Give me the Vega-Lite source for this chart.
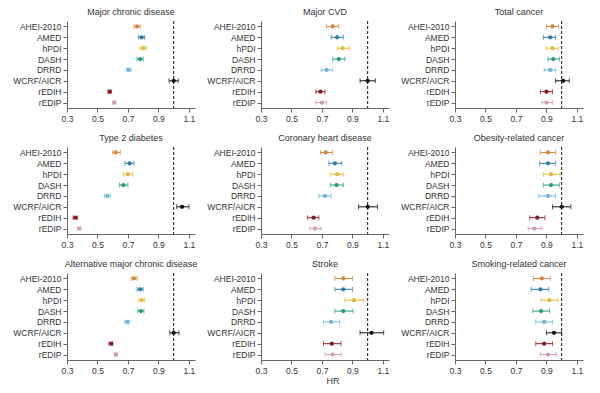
{
  "$schema": "https://vega.github.io/schema/vega-lite/v6.json",
  "background": "white",
  "padding": {"left": 12, "top": 7, "right": 5, "bottom": 5},
  "config": {
    "font": "Liberation Sans",
    "view": {"stroke": null},
    "axis": {"labelFontSize": 8.5, "labelColor": "#333", "domainColor": "#666", "tickColor": "#666", "tickSize": 4, "grid": false, "labelPadding": 2, "labelOverlap": false},
    "header": {"labelFontSize": 9, "labelColor": "#333", "labelPadding": 4, "title": null}
  },
  "title": {"text": "HR", "orient": "bottom", "anchor": "middle", "fontSize": 9, "fontWeight": "normal", "color": "#333", "dx": 35, "offset": 2},
  "data": {"values": [
    {"o":"Major chronic disease","d":"AHEI-2010","hr":0.76,"lo":0.74,"hi":0.78},
    {"o":"Major chronic disease","d":"AMED","hr":0.79,"lo":0.77,"hi":0.81},
    {"o":"Major chronic disease","d":"hPDI","hr":0.80,"lo":0.78,"hi":0.82},
    {"o":"Major chronic disease","d":"DASH","hr":0.78,"lo":0.76,"hi":0.80},
    {"o":"Major chronic disease","d":"DRRD","hr":0.705,"lo":0.69,"hi":0.72},
    {"o":"Major chronic disease","d":"WCRF/AICR","hr":1.00,"lo":0.97,"hi":1.03},
    {"o":"Major chronic disease","d":"rEDIH","hr":0.58,"lo":0.57,"hi":0.59},
    {"o":"Major chronic disease","d":"rEDIP","hr":0.61,"lo":0.60,"hi":0.62},

    {"o":"Major CVD","d":"AHEI-2010","hr":0.77,"lo":0.73,"hi":0.81},
    {"o":"Major CVD","d":"AMED","hr":0.80,"lo":0.76,"hi":0.84},
    {"o":"Major CVD","d":"hPDI","hr":0.835,"lo":0.80,"hi":0.88},
    {"o":"Major CVD","d":"DASH","hr":0.81,"lo":0.77,"hi":0.85},
    {"o":"Major CVD","d":"DRRD","hr":0.73,"lo":0.695,"hi":0.77},
    {"o":"Major CVD","d":"WCRF/AICR","hr":1.00,"lo":0.95,"hi":1.05},
    {"o":"Major CVD","d":"rEDIH","hr":0.69,"lo":0.66,"hi":0.72},
    {"o":"Major CVD","d":"rEDIP","hr":0.70,"lo":0.66,"hi":0.73},

    {"o":"Total cancer","d":"AHEI-2010","hr":0.94,"lo":0.90,"hi":0.98},
    {"o":"Total cancer","d":"AMED","hr":0.925,"lo":0.88,"hi":0.96},
    {"o":"Total cancer","d":"hPDI","hr":0.94,"lo":0.90,"hi":0.98},
    {"o":"Total cancer","d":"DASH","hr":0.945,"lo":0.91,"hi":0.985},
    {"o":"Total cancer","d":"DRRD","hr":0.925,"lo":0.885,"hi":0.96},
    {"o":"Total cancer","d":"WCRF/AICR","hr":1.01,"lo":0.96,"hi":1.05},
    {"o":"Total cancer","d":"rEDIH","hr":0.90,"lo":0.86,"hi":0.94},
    {"o":"Total cancer","d":"rEDIP","hr":0.90,"lo":0.87,"hi":0.94},

    {"o":"Type 2 diabetes","d":"AHEI-2010","hr":0.62,"lo":0.60,"hi":0.65},
    {"o":"Type 2 diabetes","d":"AMED","hr":0.71,"lo":0.68,"hi":0.74},
    {"o":"Type 2 diabetes","d":"hPDI","hr":0.70,"lo":0.67,"hi":0.73},
    {"o":"Type 2 diabetes","d":"DASH","hr":0.67,"lo":0.645,"hi":0.70},
    {"o":"Type 2 diabetes","d":"DRRD","hr":0.565,"lo":0.545,"hi":0.585},
    {"o":"Type 2 diabetes","d":"WCRF/AICR","hr":1.055,"lo":1.02,"hi":1.10},
    {"o":"Type 2 diabetes","d":"rEDIH","hr":0.355,"lo":0.34,"hi":0.37},
    {"o":"Type 2 diabetes","d":"rEDIP","hr":0.38,"lo":0.37,"hi":0.39},

    {"o":"Coronary heart disease","d":"AHEI-2010","hr":0.725,"lo":0.69,"hi":0.77},
    {"o":"Coronary heart disease","d":"AMED","hr":0.785,"lo":0.745,"hi":0.83},
    {"o":"Coronary heart disease","d":"hPDI","hr":0.80,"lo":0.755,"hi":0.84},
    {"o":"Coronary heart disease","d":"DASH","hr":0.795,"lo":0.755,"hi":0.84},
    {"o":"Coronary heart disease","d":"DRRD","hr":0.72,"lo":0.68,"hi":0.76},
    {"o":"Coronary heart disease","d":"WCRF/AICR","hr":1.00,"lo":0.94,"hi":1.065},
    {"o":"Coronary heart disease","d":"rEDIH","hr":0.645,"lo":0.605,"hi":0.68},
    {"o":"Coronary heart disease","d":"rEDIP","hr":0.655,"lo":0.62,"hi":0.695},

    {"o":"Obesity-related cancer","d":"AHEI-2010","hr":0.91,"lo":0.86,"hi":0.96},
    {"o":"Obesity-related cancer","d":"AMED","hr":0.91,"lo":0.855,"hi":0.96},
    {"o":"Obesity-related cancer","d":"hPDI","hr":0.93,"lo":0.88,"hi":0.99},
    {"o":"Obesity-related cancer","d":"DASH","hr":0.93,"lo":0.88,"hi":0.985},
    {"o":"Obesity-related cancer","d":"DRRD","hr":0.91,"lo":0.85,"hi":0.96},
    {"o":"Obesity-related cancer","d":"WCRF/AICR","hr":1.00,"lo":0.94,"hi":1.06},
    {"o":"Obesity-related cancer","d":"rEDIH","hr":0.84,"lo":0.79,"hi":0.89},
    {"o":"Obesity-related cancer","d":"rEDIP","hr":0.82,"lo":0.78,"hi":0.87},

    {"o":"Alternative major chronic disease","d":"AHEI-2010","hr":0.74,"lo":0.72,"hi":0.76},
    {"o":"Alternative major chronic disease","d":"AMED","hr":0.78,"lo":0.76,"hi":0.80},
    {"o":"Alternative major chronic disease","d":"hPDI","hr":0.79,"lo":0.77,"hi":0.81},
    {"o":"Alternative major chronic disease","d":"DASH","hr":0.785,"lo":0.765,"hi":0.805},
    {"o":"Alternative major chronic disease","d":"DRRD","hr":0.695,"lo":0.68,"hi":0.71},
    {"o":"Alternative major chronic disease","d":"WCRF/AICR","hr":1.00,"lo":0.975,"hi":1.035},
    {"o":"Alternative major chronic disease","d":"rEDIH","hr":0.59,"lo":0.575,"hi":0.60},
    {"o":"Alternative major chronic disease","d":"rEDIP","hr":0.62,"lo":0.61,"hi":0.63},

    {"o":"Stroke","d":"AHEI-2010","hr":0.84,"lo":0.785,"hi":0.90},
    {"o":"Stroke","d":"AMED","hr":0.84,"lo":0.785,"hi":0.90},
    {"o":"Stroke","d":"hPDI","hr":0.91,"lo":0.85,"hi":0.975},
    {"o":"Stroke","d":"DASH","hr":0.84,"lo":0.785,"hi":0.905},
    {"o":"Stroke","d":"DRRD","hr":0.76,"lo":0.71,"hi":0.815},
    {"o":"Stroke","d":"WCRF/AICR","hr":1.025,"lo":0.95,"hi":1.105},
    {"o":"Stroke","d":"rEDIH","hr":0.765,"lo":0.71,"hi":0.825},
    {"o":"Stroke","d":"rEDIP","hr":0.77,"lo":0.72,"hi":0.825},

    {"o":"Smoking-related cancer","d":"AHEI-2010","hr":0.87,"lo":0.815,"hi":0.925},
    {"o":"Smoking-related cancer","d":"AMED","hr":0.86,"lo":0.80,"hi":0.915},
    {"o":"Smoking-related cancer","d":"hPDI","hr":0.92,"lo":0.865,"hi":0.975},
    {"o":"Smoking-related cancer","d":"DASH","hr":0.865,"lo":0.81,"hi":0.92},
    {"o":"Smoking-related cancer","d":"DRRD","hr":0.885,"lo":0.83,"hi":0.94},
    {"o":"Smoking-related cancer","d":"WCRF/AICR","hr":0.95,"lo":0.90,"hi":1.00},
    {"o":"Smoking-related cancer","d":"rEDIH","hr":0.885,"lo":0.83,"hi":0.94},
    {"o":"Smoking-related cancer","d":"rEDIP","hr":0.91,"lo":0.86,"hi":0.965}
  ]},
  "facet": {
    "field": "o",
    "type": "nominal",
    "sort": ["Major chronic disease","Major CVD","Total cancer","Type 2 diabetes","Coronary heart disease","Obesity-related cancer","Alternative major chronic disease","Stroke","Smoking-related cancer"],
    "header": {"title": null}
  },
  "columns": 3,
  "spacing": {"column": 8, "row": 10},
  "resolve": {"axis": {"x": "independent", "y": "independent"}},
  "spec": {
    "width": 128,
    "height": 87,
    "encoding": {
      "y": {"field": "d", "type": "nominal", "sort": ["AHEI-2010","AMED","hPDI","DASH","DRRD","WCRF/AICR","rEDIH","rEDIP"], "title": null, "scale": {"type": "point", "padding": 0.5}},
      "color": {"field": "d", "type": "nominal", "legend": null,
        "scale": {"domain": ["AHEI-2010","AMED","hPDI","DASH","DRRD","WCRF/AICR","rEDIH","rEDIP"],
                  "range": ["#d6863a","#2a80a3","#e6b83a","#2a9a82","#6fb6d8","#111111","#8a1a20","#d79ab4"]}}
    },
    "layer": [
      {
        "transform": [{"filter": {"field": "d", "equal": "AHEI-2010"}}],
        "mark": {"type": "rule", "color": "#111", "strokeDash": [3, 2], "strokeWidth": 1},
        "encoding": {"x": {"datum": 1, "type": "quantitative"}, "y": {"value": 0}, "y2": {"value": 87}, "color": {"value": "#111"}}
      },
      {
        "mark": {"type": "errorbar", "ticks": {"size": 5}, "thickness": 1},
        "encoding": {
          "x": {"field": "lo", "type": "quantitative", "scale": {"domain": [0.3, 1.14], "nice": false, "zero": false},
                "axis": {"values": [0.3, 0.5, 0.7, 0.9, 1.1], "tickCount": 10, "format": ".1f", "title": null, "labelOverlap": false, "labelFlush": false}},
          "x2": {"field": "hi"}
        }
      },
      {
        "mark": {"type": "point", "filled": true, "size": 18, "opacity": 1},
        "encoding": {"x": {"field": "hr", "type": "quantitative",
                "axis": {"values": [0.3, 0.5, 0.7, 0.9, 1.1], "tickCount": 10, "format": ".1f", "title": null, "labelOverlap": false, "labelFlush": false}}}
      }
    ]
  }
}
